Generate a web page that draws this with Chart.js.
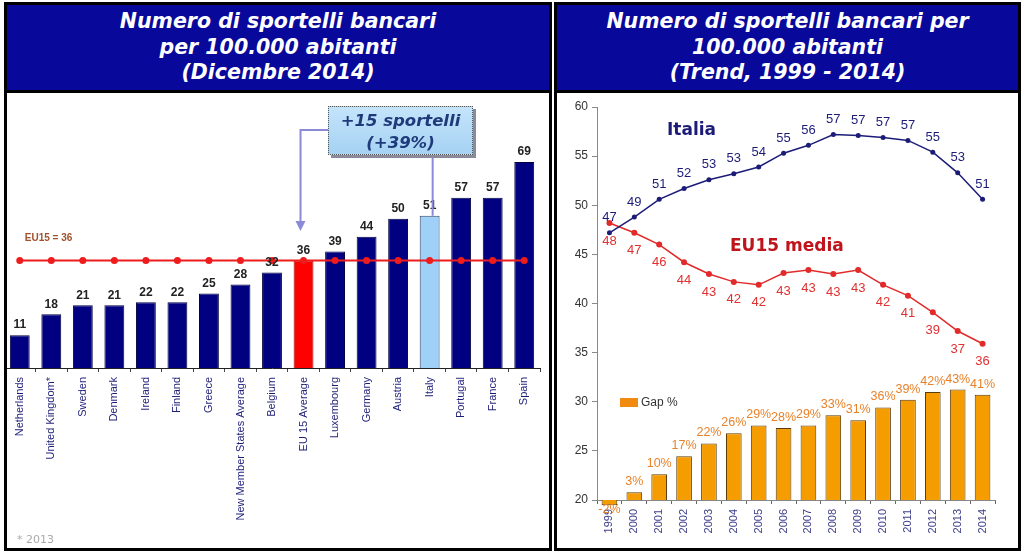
<!DOCTYPE html>
<html><head><meta charset="utf-8">
<script src="https://cdn.jsdelivr.net/npm/chart.js@4"></script>
<style>
body{margin:0;width:1024px;height:556px;background:#fff;position:relative;overflow:hidden;font-family:"Liberation Sans",Arial,sans-serif;}
.panel{position:absolute;top:2px;height:549px;border:3px solid #000;box-sizing:border-box;overflow:hidden;background:#fff;}
.title{position:absolute;left:0;top:0;right:0;height:88px;background:#08089a;border-bottom:3px solid #000;box-sizing:border-box;color:#fff;font-family:"DejaVu Sans",Verdana,sans-serif;font-weight:bold;font-style:italic;font-size:20.5px;line-height:25.5px;text-align:center;display:flex;align-items:center;justify-content:center;}
canvas{position:absolute;}
.note{position:absolute;left:321px;top:101px;width:145px;height:49px;box-sizing:border-box;border:1px dotted #555;background:linear-gradient(#c4e4fb,#a6d2f3);box-shadow:3px 3px 0 #8a8a9a;color:#1f3a7a;font-family:"DejaVu Sans",Verdana,sans-serif;font-weight:bold;font-style:italic;font-size:16.5px;line-height:22px;text-align:center;padding-top:3px;}
.foot{position:absolute;left:10px;top:528px;color:#aaa;font-family:"DejaVu Sans",Verdana,sans-serif;font-size:11px;}
</style></head>
<body>
<div class="panel" id="pL" style="left:4px;width:548px;">
  <div class="title"><div>Numero di sportelli bancari<br>per 100.000 abitanti<br>(Dicembre 2014)</div></div>
  <canvas id="cL" width="552" height="456" style="left:-7px;top:89px;width:552px;height:456px;"></canvas>
  <div class="note">+15 sportelli<br>(+39%)</div>
  <div class="foot">* 2013</div>
</div>
<div class="panel" id="pR" style="left:554px;width:467px;">
  <div class="title"><div>Numero di sportelli bancari per<br>100.000 abitanti<br>(Trend, 1999 - 2014)</div></div>
  <canvas id="cR" width="460" height="453" style="left:0px;top:89px;width:460px;height:453px;"></canvas>
</div>
<script>
// ---- Left chart data ----
const countries = ["Netherlands","United Kingdom*","Sweden","Denmark","Ireland","Finland","Greece","New Member States Average","Belgium","EU 15 Average","Luxembourg","Germany","Austria","Italy","Portugal","France","Spain"];
const branches2014 = [11,18,21,21,22,22,25,28,32,36,39,44,50,51,57,57,69];
const eu15Level = 36;
// ---- Right chart data ----
const years = ["1999","2000","2001","2002","2003","2004","2005","2006","2007","2008","2009","2010","2011","2012","2013","2014"];
const italia = [47.2,48.8,50.6,51.7,52.6,53.2,53.9,55.3,56.1,57.2,57.1,56.9,56.6,55.4,53.3,50.6];
const eu15 = [48.2,47.2,46.0,44.2,43.0,42.2,41.9,43.1,43.4,43.0,43.4,41.9,40.8,39.1,37.2,35.9];
const gapPct = [-2,3,10,17,22,26,29,28,29,33,31,36,39,42,43,41];

const barFill = countries.map(c => c === "EU 15 Average" ? "#ff0000" : (c === "Italy" ? "#9fd0f8" : "#000080"));
const barBorder = countries.map(c => c === "EU 15 Average" ? "#a00000" : (c === "Italy" ? "#334466" : "#000040"));

const leftPlugin = {
  id: 'leftLabels',
  afterDatasetsDraw(chart) {
    const ctx = chart.ctx;
    const xs = chart.scales.x, ys = chart.scales.y;
    ctx.save();
    // bar values
    const meta = chart.getDatasetMeta(1);
    ctx.font = 'bold 12px "Liberation Sans", Arial';
    ctx.fillStyle = '#222';
    ctx.textAlign = 'center';
    ctx.textBaseline = 'bottom';
    meta.data.forEach((el, i) => {
      ctx.fillText(String(branches2014[i]), el.x, el.y - 4);
    });
    // EU15 label
    ctx.font = 'bold 10px "Liberation Sans", Arial';
    ctx.fillStyle = '#a0522d';
    ctx.textAlign = 'left';
    ctx.textBaseline = 'middle';
    ctx.fillText('EU15 = ' + eu15Level, xs.getPixelForValue(0) + 5, ys.getPixelForValue(eu15Level) - 22);
    // arrows
    ctx.strokeStyle = '#8a8ad6';
    ctx.fillStyle = '#8a8ad6';
    ctx.lineWidth = 2;
    const ax = xs.getPixelForValue(countries.indexOf("EU 15 Average")) - 3;
    ctx.beginPath();
    ctx.moveTo(328, 36);
    ctx.lineTo(ax, 36);
    ctx.lineTo(ax, 128);
    ctx.stroke();
    ctx.beginPath();
    ctx.moveTo(ax - 5, 127);
    ctx.lineTo(ax + 5, 127);
    ctx.lineTo(ax, 137);
    ctx.closePath();
    ctx.fill();
    const ix = xs.getPixelForValue(countries.indexOf("Italy")) + 3;
    const iy = ys.getPixelForValue(branches2014[countries.indexOf("Italy")]);
    ctx.beginPath();
    ctx.moveTo(ix, 61);
    ctx.lineTo(ix, iy);
    ctx.stroke();
    ctx.restore();
  }
};

new Chart(document.getElementById('cL'), {
  data: {
    labels: countries,
    datasets: [
      {type:'line', data: countries.map(() => eu15Level), borderColor:'#ee1c1c', backgroundColor:'#ee1c1c', borderWidth:2, pointRadius:3.5, pointBorderWidth:0, order:0},
      {type:'bar', data: branches2014, backgroundColor: barFill, borderColor: barBorder, borderWidth:1, barPercentage:0.63, categoryPercentage:1, order:1}
    ]
  },
  options: {
    responsive:false, animation:false,
    layout:{padding:{left:3.5,right:12,top:35.2,bottom:0}},
    plugins:{legend:{display:false},tooltip:{enabled:false}},
    scales:{
      x:{
        grid:{display:true, drawOnChartArea:false, tickLength:4, color:'#444', offset:true},
        border:{color:'#222', width:1},
        ticks:{minRotation:90, maxRotation:90, autoSkip:false, color:'#1e1e78', font:{family:'Liberation Sans', size:11}, padding:5},
        afterFit: s => { s.height = 182; }
      },
      y:{display:false, min:0, max:80}
    }
  },
  plugins:[leftPlugin]
});

const rightPlugin = {
  id: 'rightLabels',
  afterDatasetsDraw(chart) {
    const ctx = chart.ctx;
    ctx.save();
    ctx.textAlign = 'center';
    ctx.textBaseline = 'middle';
    // Italia labels
    ctx.font = '13px "Liberation Sans", Arial';
    ctx.fillStyle = '#1c1c78';
    chart.getDatasetMeta(0).data.forEach((el, i) => ctx.fillText(String(Math.round(italia[i])), el.x, el.y - 15));
    // EU15 labels
    ctx.fillStyle = '#e03030';
    chart.getDatasetMeta(1).data.forEach((el, i) => ctx.fillText(String(Math.round(eu15[i])), el.x, el.y + 18));
    // Gap labels
    ctx.font = '12.5px "Liberation Sans", Arial';
    ctx.fillStyle = '#e8822a';
    chart.getDatasetMeta(2).data.forEach((el, i) => {
      const v = gapPct[i];
      ctx.fillText(v + '%', el.x, v >= 0 ? el.y - 10.5 : el.y + 4);
    });
    // series names
    ctx.textAlign = 'left';
    ctx.font = 'bold 17px "DejaVu Sans", Verdana';
    ctx.fillStyle = '#1c1c78';
    ctx.fillText('Italia', 110, 37);
    ctx.fillStyle = '#c0141c';
    ctx.fillText('EU15 media', 173, 153);
    // legend
    ctx.fillStyle = '#f08a10';
    ctx.fillRect(63, 304, 18, 9);
    ctx.fillStyle = '#333';
    ctx.font = '12px "Liberation Sans", Arial';
    ctx.fillText('Gap %', 84, 309);
    ctx.restore();
  }
};

new Chart(document.getElementById('cR'), {
  data: {
    labels: years,
    datasets: [
      {type:'line', label:'Italia', data: italia, borderColor:'#1c1c78', backgroundColor:'#1c1c78', borderWidth:1.5, pointRadius:2.5, pointBorderWidth:0, tension:0, yAxisID:'y', order:0},
      {type:'line', label:'EU15 media', data: eu15, borderColor:'#e22a2a', backgroundColor:'#e22a2a', borderWidth:1.5, pointRadius:3, pointBorderWidth:0, tension:0, yAxisID:'y', order:1},
      {type:'bar', label:'Gap %', data: gapPct, backgroundColor:'#f59d00', borderColor:'#5a3c0a', borderWidth:1, barPercentage:0.63, categoryPercentage:1, yAxisID:'y2', clip:false, order:2}
    ]
  },
  options: {
    responsive:false, animation:false,
    layout:{padding:{left:0,right:22,top:13,bottom:0}},
    plugins:{legend:{display:false},tooltip:{enabled:false}},
    scales:{
      x:{
        grid:{display:true, drawOnChartArea:false, tickLength:4, color:'#666', offset:true},
        border:{color:'#888'},
        ticks:{minRotation:90, maxRotation:90, autoSkip:false, color:'#40408c', font:{family:'Liberation Sans', size:11}, padding:5},
        afterFit: s => { s.height = 47; }
      },
      y:{
        min:20, max:60,
        ticks:{stepSize:5, color:'#333', font:{family:'Liberation Sans', size:12}, padding:4},
        grid:{drawOnChartArea:false, tickLength:5, color:'#888'},
        border:{color:'#888'},
        afterFit: s => { s.width = 40; }
      },
      y2:{display:false, min:0, max:153}
    }
  },
  plugins:[rightPlugin]
});
</script>
</body></html>
